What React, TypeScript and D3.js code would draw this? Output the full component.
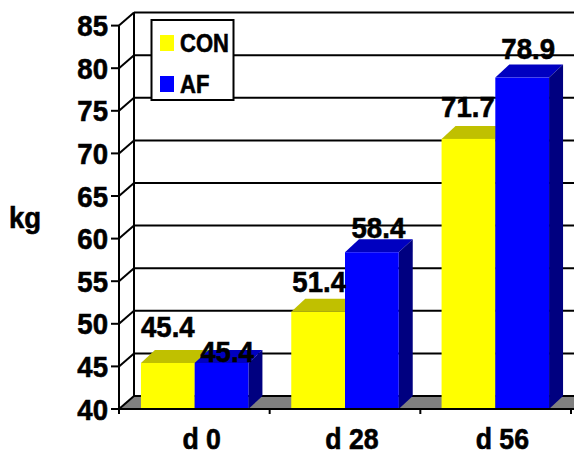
import React from 'react';
import * as d3 from 'd3';

const categories = ['d 0', 'd 28', 'd 56'];
const seriesNames = ['CON', 'AF'];
const conValues = [45.4, 51.4, 71.7];
const afValues = [45.4, 58.4, 78.9];
const yTicks = [40, 45, 50, 55, 60, 65, 70, 75, 80, 85];

const width = 574;
const height = 455;
const left = 119;
const right = 571;
const bottom = 409;
const top = 25.6;
const depthX = 15;
const barDepthX = 14;
const depthY = 13;
const font = '"Liberation Sans", Arial, sans-serif';

const y = d3.scaleLinear().domain([40, 85]).range([bottom, top]);
const x0 = d3.scaleBand<string>().domain(categories).range([left, right]).paddingInner(0.285).paddingOuter(0.146);
const x1 = d3.scaleBand<string>().domain(seriesNames).range([0, x0.bandwidth()]);
const tickX = d3.scaleLinear().domain([0, categories.length]).range([left, right]);

const colors: Record<string, { front: string; top: string; side: string }> = {
  CON: { front: '#ffff00', top: '#c0c000', side: '#808000' },
  AF: { front: '#0000ff', top: '#0000c0', side: '#000080' },
};

// the value labels were hand placed in the original, each sits at its own height above the bar
const labelLift: Record<string, number[]> = { CON: [26, 20, 22], AF: [1, 14, 18.5] };
const labelShift: Record<string, number[]> = { CON: [0, 1, -0.5], AF: [5.5, 6.5, 6] };

const poly = (pts: [number, number][]) => d3.line()(pts) + 'Z';

// reference type is a bit taller and narrower than plain Arial bold
const Label: React.FC<{ x: number; y: number; size?: number; sx?: number; anchor?: string; children: React.ReactNode }> = ({
  x, y: ty, size = 30, sx = 0.92, anchor = 'middle', children,
}) => (
  <text transform={`translate(${x},${ty}) scale(${sx},1)`} textAnchor={anchor} fontSize={size} fill="#000" stroke="#000" strokeWidth={0.6}>
    {children}
  </text>
);

const App: React.FC = () => {
  const series = [
    { name: 'CON', values: conValues },
    { name: 'AF', values: afValues },
  ];

  return (
    <svg width={width} height={height} style={{ position: 'fixed', left: 0, top: 0, background: '#fff' }} fontFamily={font} fontWeight="bold">
      {/* floor */}
      <path d={poly([[left, bottom], [left + depthX, bottom - depthY], [width, bottom - depthY], [width, bottom]])} fill="#808080" />

      {/* back wall grid and side wall */}
      {yTicks.map(t => (
        <g key={t} stroke="#000" strokeWidth={2}>
          <line x1={left + depthX} x2={width} y1={y(t) - depthY} y2={y(t) - depthY} />
          <line x1={left} x2={left + depthX} y1={y(t)} y2={y(t) - depthY} />
          <line x1={left - 8} x2={left} y1={y(t)} y2={y(t)} />
        </g>
      ))}
      <line x1={left + depthX} x2={left + depthX} y1={y(85) - depthY} y2={bottom - depthY} stroke="#000" strokeWidth={2} />

      {/* bars */}
      {categories.map((c, i) =>
        series.map(s => {
          const bx = (x0(c) ?? 0) + (x1(s.name) ?? 0);
          const bw = x1.bandwidth();
          const by = y(s.values[i]);
          const col = colors[s.name];
          return (
            <g key={c + s.name}>
              <path d={poly([[bx, by], [bx + barDepthX, by - depthY], [bx + bw + barDepthX, by - depthY], [bx + bw, by]])} fill={col.top} />
              <path d={poly([[bx + bw, by], [bx + bw + barDepthX, by - depthY], [bx + bw + barDepthX, bottom - depthY], [bx + bw, bottom]])} fill={col.side} />
              <rect x={bx} y={by} width={bw} height={bottom - by} fill={col.front} />
            </g>
          );
        })
      )}

      {/* front axes */}
      <line x1={left} x2={left} y1={top} y2={bottom + 5} stroke="#000" strokeWidth={2} />
      <line x1={left - 8} x2={width} y1={bottom} y2={bottom} stroke="#000" strokeWidth={2} />
      {categories.map((c, i) => (
        <line key={c} x1={tickX(i + 1)} x2={tickX(i + 1)} y1={bottom} y2={bottom + 5} stroke="#000" strokeWidth={2} />
      ))}

      {/* value labels */}
      {categories.map((c, i) =>
        series.map(s => (
          <Label
            key={c + s.name}
            x={(x0(c) ?? 0) + (x1(s.name) ?? 0) + x1.bandwidth() / 2 + labelShift[s.name][i]}
            y={y(s.values[i]) - labelLift[s.name][i]}
          >
            {s.values[i].toFixed(1)}
          </Label>
        ))
      )}

      {/* tick labels */}
      {yTicks.map(t => (
        <Label key={t} x={left - 11} y={y(t) + 10.5} anchor="end">{t}</Label>
      ))}
      {categories.map(c => (
        <Label key={c} x={(x0(c) ?? 0) + x0.bandwidth() / 2 + 7} y={449} size={29}>{c}</Label>
      ))}
      <Label x={25} y={228}>kg</Label>

      {/* legend */}
      <rect x={151.5} y={20} width={82} height={80} fill="#fff" stroke="#000" strokeWidth={2} />
      {series.map((s, i) => (
        <g key={s.name}>
          <rect x={160} y={35 + i * 41} width={14} height={16} fill={colors[s.name].front} />
          <Label x={180} y={51.5 + i * 41} size={25} sx={0.88} anchor="start">{s.name}</Label>
        </g>
      ))}
    </svg>
  );
};

export default App;
